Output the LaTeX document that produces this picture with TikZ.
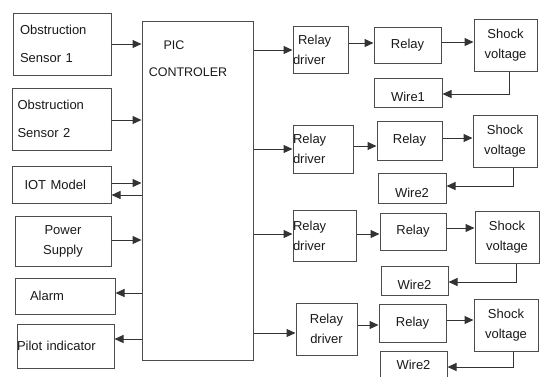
\documentclass[tikz,border=0pt]{standalone}
\usepackage{fontspec}
\setmainfont{Liberation Sans}
\usetikzlibrary{arrows.meta}

\begin{document}
\begin{tikzpicture}[x=1pt, y=-1pt,
  blk/.style={draw=black!70, line width=1pt, inner sep=0pt, text=black!90,
    font=\fontsize{13}{20}\selectfont, align=center},
  wirebox/.style={blk, text height=18pt, text depth=0pt},
  lbl/.style={inner sep=0pt, text=black!90, font=\fontsize{12.5}{15}\selectfont},
  arr/.style={draw=black!80, line width=1pt, -{Triangle[length=9pt, width=8pt]}}]
\useasboundingbox (0,0) rectangle (541,376);
\node[blk, minimum width=98, minimum height=62, text width=84, align=left] (sen1) at (62,44) {Obstruction\\[8pt]Sensor 1};
\node[blk, minimum width=99, minimum height=62, text width=88, align=left] (sen2) at (61.5,119) {Obstruction\\[8pt]Sensor 2};
\node[blk, minimum width=99, minimum height=37, text width=74, align=left] (iot) at (61.5,184.5) {IOT Model};
\node[blk, minimum width=96, minimum height=50, text width=76] (power) at (63,241) {Power\\Supply};
\node[blk, minimum width=100, minimum height=36, text width=70, align=left] (alarm) at (65,296) {Alarm};
\node[blk, minimum width=97, minimum height=44, text width=97, align=left] (pilot) at (65.5,346) {Pilot indicator};
\node[blk, minimum width=111, minimum height=339] (pic) at (197.5,190.5) {};
\node[lbl] (piclbl) at (174,45) {PIC};
\node[lbl] (ctrllbl) at (188,72) {CONTROLER};
\draw[arr] (sen1.east) -- (sen1.east -| pic.west);
\draw[arr] (sen2.east |- 0,120) -- (pic.west |- 0,120);
\draw[arr] (iot.east |- 0,183) -- (pic.west |- 0,183);
\draw[arr] (pic.west |- 0,195) -- (iot.east |- 0,195);
\draw[arr] (power.east |- 0,240) -- (pic.west |- 0,240);
\draw[arr] (pic.west |- 0,293) -- (alarm.east |- 0,293);
\draw[arr] (pic.west |- 0,339) -- (pilot.east |- 0,339);
\node[blk, minimum width=55, minimum height=47, text width=55, align=left] (drv1) at (320.5,49.5) {\hspace*{5pt}Relay\\driver};
\node[blk, minimum width=67, minimum height=36] (rly1) at (407.5,45) {Relay};
\node[blk, minimum width=63, minimum height=52] (sv1) at (505.5,45) {Shock\\voltage};
\node[wirebox, minimum width=68, minimum height=29] (w1) at (408,92.5) {Wire1};
\node[blk, minimum width=60, minimum height=48, text width=60, align=left] (drv2) at (323,149) {Relay\\driver};
\node[blk, minimum width=65, minimum height=39] (rly2) at (409.5,140.5) {Relay};
\node[blk, minimum width=64, minimum height=52] (sv2) at (505,141) {Shock\\voltage};
\node[wirebox, minimum width=68, minimum height=30] (w2a) at (412,188) {Wire2};
\node[blk, minimum width=63, minimum height=51, text width=63, align=left] (drv3) at (324.5,235.5) {Relay\\driver};
\node[blk, minimum width=66, minimum height=37] (rly3) at (413,231.5) {Relay};
\node[blk, minimum width=64, minimum height=52] (sv3) at (507,237) {Shock\\voltage};
\node[wirebox, minimum width=67, minimum height=29] (w2b) at (414.5,280.5) {Wire2};
\node[blk, minimum width=61, minimum height=52] (drv4) at (326.5,329) {Relay\\driver};
\node[blk, minimum width=67, minimum height=38] (rly4) at (412.5,323) {Relay};
\node[blk, minimum width=64, minimum height=52] (sv4) at (506,325) {Shock\\voltage};
\node[blk, minimum width=67, minimum height=28] (w2c) at (413.5,365) {Wire2};
\draw[arr] (pic.east |- 0,50) -- (drv1.west |- 0,50);
\draw[arr] (drv1.east |- 0,43) -- (rly1.west |- 0,43);
\draw[arr] (rly1.east |- 0,42) -- (sv1.west |- 0,42);
\draw[arr] (sv1.south -| 509,0) |- (w1.east |- 0,94);
\draw[arr] (pic.east |- 0,149) -- (drv2.west |- 0,149);
\draw[arr] (drv2.east |- 0,146) -- (rly2.west |- 0,146);
\draw[arr] (rly2.east |- 0,138) -- (sv2.west |- 0,138);
\draw[arr] (sv2.south -| 513,0) |- (w2a.east |- 0,186);
\draw[arr] (pic.east |- 0,234) -- (drv3.west |- 0,234);
\draw[arr] (drv3.east |- 0,234) -- (rly3.west |- 0,234);
\draw[arr] (rly3.east |- 0,228) -- (sv3.west |- 0,228);
\draw[arr] (sv3.south -| 516,0) |- (w2b.east |- 0,282);
\draw[arr] (pic.east |- 0,333) -- (drv4.west |- 0,333);
\draw[arr] (drv4.east |- 0,325) -- (rly4.west |- 0,325);
\draw[arr] (rly4.east |- 0,320) -- (sv4.west |- 0,320);
\draw[arr] (sv4.south -| 513,0) |- (w2c.east |- 0,367);
\end{tikzpicture}
\end{document}
